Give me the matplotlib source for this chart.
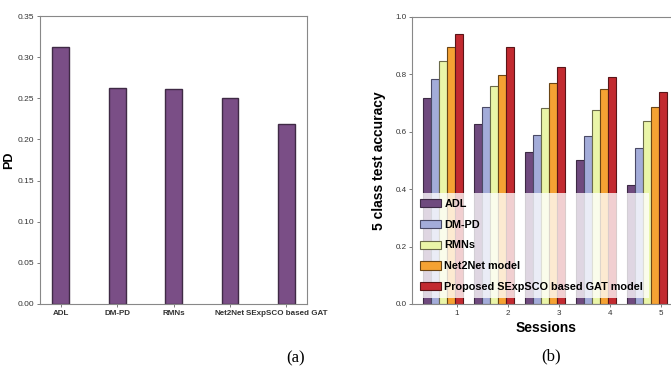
import matplotlib
matplotlib.use("Agg")
import matplotlib.pyplot as plt
import numpy as np

# data
pd_methods = ["ADL", "DM-PD", "RMNs", "Net2Net", "SExpSCO based GAT"]
pd_values = [0.312, 0.262, 0.261, 0.250, 0.219]

sessions = [1, 2, 3, 4, 5]
acc_labels = ["ADL", "DM-PD", "RMNs", "Net2Net model",
              "Proposed SExpSCO based GAT model"]
acc_adl = [0.717, 0.628, 0.531, 0.502, 0.415]
acc_dmpd = [0.784, 0.686, 0.590, 0.585, 0.545]
acc_rmns = [0.847, 0.760, 0.683, 0.677, 0.636]
acc_net2net = [0.894, 0.798, 0.771, 0.749, 0.686]
acc_proposed = [0.942, 0.897, 0.826, 0.790, 0.738]

plt.rcParams['font.family'] = ['Liberation Sans', 'DejaVu Sans']

fig = plt.figure(figsize=(6.71, 3.71), dpi=100)

# ---- (a) PD ----
ax1 = fig.add_axes([0.0596, 0.1806, 0.398, 0.776])
x = np.arange(len(pd_methods))
ax1.bar(x, pd_values, width=0.3, color="#7a4e86", edgecolor="#3f2a45", linewidth=1.0)
ax1.set_ylim(0, 0.35)
yt1 = np.arange(0, 0.351, 0.05)
ax1.set_yticks(yt1)
ax1.set_yticklabels(["%.2f" % v for v in yt1], fontsize=6)
ax1.set_xticks(x)
ax1.set_xticklabels(pd_methods, fontsize=5.8, fontweight="bold")
ax1.set_ylabel("PD", fontsize=9, fontweight="bold", labelpad=2)
ax1.tick_params(length=2, width=0.6, colors="#666666", pad=2)
for lab in ax1.get_xticklabels() + ax1.get_yticklabels():
    lab.set_color("#333333")
for s in ax1.spines.values():
    s.set_color("#888888")
    s.set_linewidth(0.8)

# ---- (b) accuracy ----
ax2 = fig.add_axes([0.614, 0.1806, 0.401, 0.7736])
series = [acc_adl, acc_dmpd, acc_rmns, acc_net2net, acc_proposed]
colors = ["#6f4a7e", "#a3acd9", "#eaf5a8", "#f5a233", "#c22a30"]
edges = ["#3d2a45", "#4a4a66", "#6b6b4a", "#6a4515", "#5a1518"]
w = 0.157
xs = np.array(sessions)
for k, (vals, c, e, lab) in enumerate(zip(series, colors, edges, acc_labels)):
    ax2.bar(xs + (k - 3.75) * w, vals, width=w, color=c, edgecolor=e,
            linewidth=0.8, label=lab)
ax2.set_xlim(0.12, 5.4)
ax2.set_ylim(0, 1.0)
yt2 = np.arange(0, 1.01, 0.2)
ax2.set_yticks(yt2)
ax2.set_yticklabels(["%.1f" % v for v in yt2], fontsize=5.8)
ax2.set_xticks(sessions)
ax2.set_xticklabels([str(s) for s in sessions], fontsize=5.8)
ax2.set_ylabel("5 class test accuracy", fontsize=10, fontweight="bold", labelpad=7)
ax2.set_xlabel("Sessions", fontsize=10, fontweight="bold", labelpad=3)
ax2.tick_params(length=2, width=0.6, colors="#666666", pad=2)
for lab in ax2.get_xticklabels() + ax2.get_yticklabels():
    lab.set_color("#333333")
for s in ax2.spines.values():
    s.set_color("#888888")
    s.set_linewidth(0.8)
leg = ax2.legend(loc="lower left", bbox_to_anchor=(0.0, 0.015),
                 prop={"weight": "bold", "size": 7.8},
                 framealpha=0.78, edgecolor="none", fancybox=False,
                 handlelength=2.0, handleheight=0.8, labelspacing=1.0,
                 borderpad=0.5, handletextpad=0.3, borderaxespad=0.2)

# captions
fig.text(296 / 671, 1 - 358 / 371, "(a)", fontsize=12, family="Liberation Serif",
         ha="center", va="center")
fig.text(551 / 671, 1 - 356 / 371, "(b)", fontsize=12, family="Liberation Serif",
         ha="center", va="center")

fig.savefig("out.png", dpi=100)
